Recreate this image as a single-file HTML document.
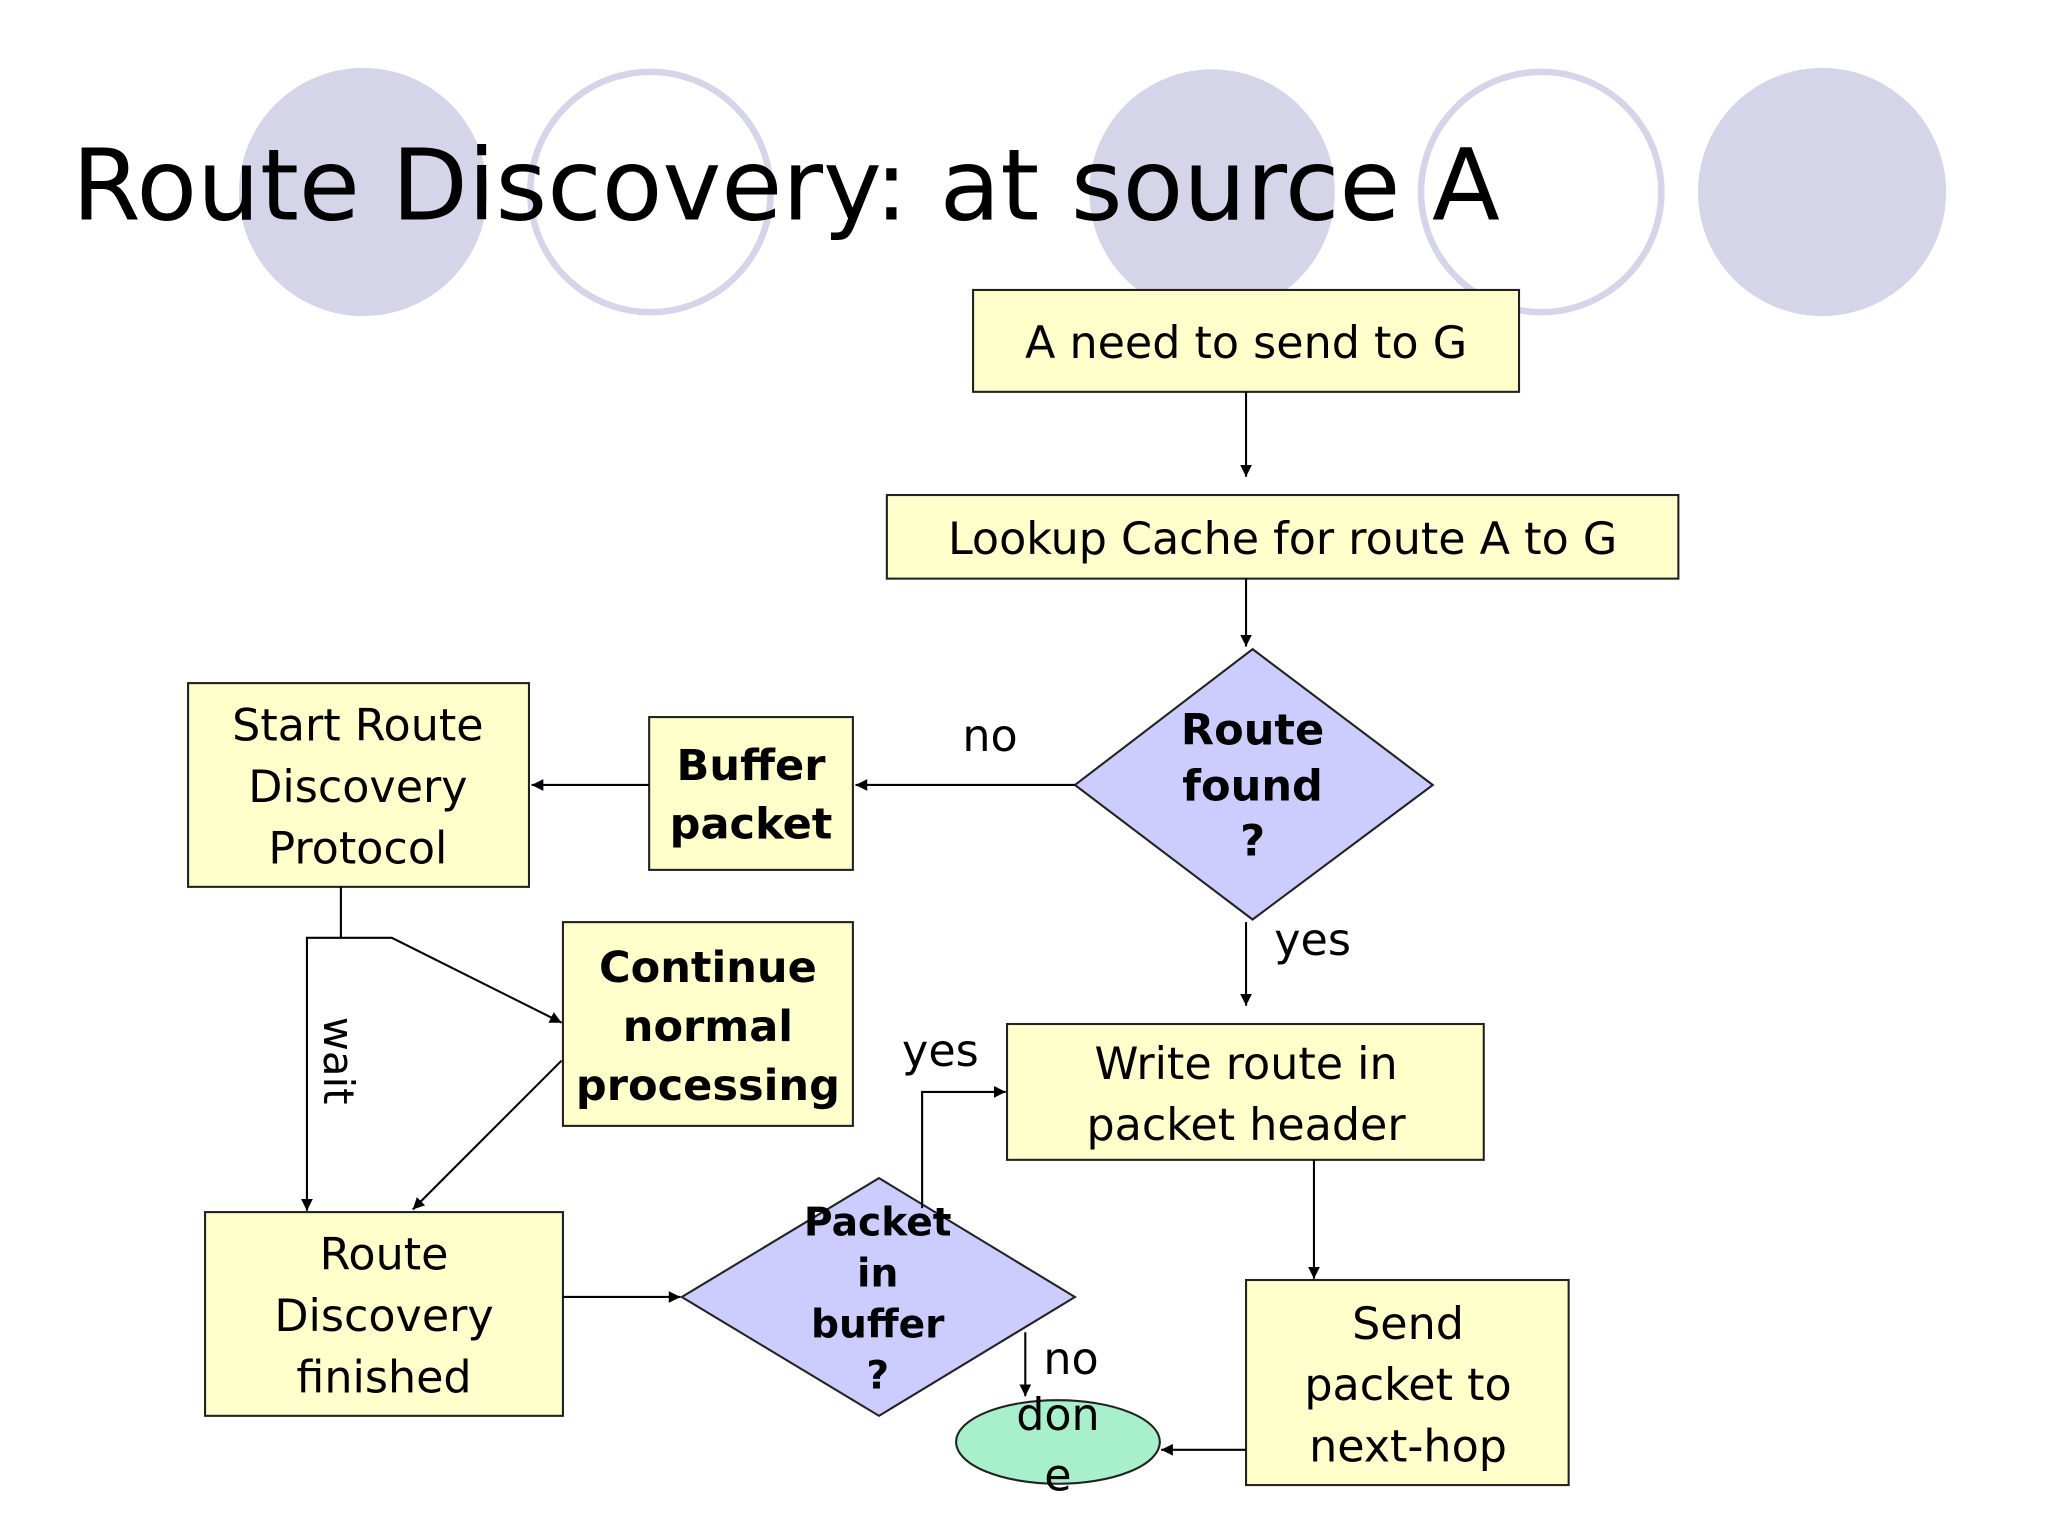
<!DOCTYPE html>
<html><head><meta charset="utf-8"><style>
html,body{margin:0;padding:0;background:#fff;}
svg{display:block;}
text{font-family:"DejaVu Sans","Liberation Sans",sans-serif;fill:#000;}
</style></head><body>
<svg width="2048" height="1536" viewBox="0 0 1568 1176" xmlns="http://www.w3.org/2000/svg">
<defs><marker id="a" viewBox="0 0 10 10" refX="10" refY="5" markerWidth="9" markerHeight="9" orient="auto" markerUnits="userSpaceOnUse"><path d="M0,0 L10,5 L0,10 z" fill="#000"/></marker></defs>
<rect width="1568" height="1176" fill="#fff"/>
<circle cx="278" cy="147" r="95" fill="#d5d5ea"/>
<circle cx="498" cy="147" r="92" fill="none" stroke="#d5d5ea" stroke-width="5"/>
<circle cx="928" cy="147" r="94" fill="#d5d5ea"/>
<circle cx="1180" cy="147" r="92" fill="none" stroke="#d5d5ea" stroke-width="5"/>
<circle cx="1395" cy="147" r="95" fill="#d5d5ea"/>
<text x="55" y="168" font-size="76">Route Discovery: at source A</text>
<g stroke="#222" stroke-width="1.6" fill="#ffffcc">
<rect x="745" y="222" width="418" height="78"/>
<rect x="679" y="379" width="606" height="64"/>
<rect x="497" y="549" width="156" height="117"/>
<rect x="144" y="523" width="261" height="156"/>
<rect x="431" y="706" width="222" height="156"/>
<rect x="157" y="928" width="274" height="156"/>
<rect x="771" y="784" width="365" height="104"/>
<rect x="954" y="980" width="247" height="157"/>
<polygon points="959,497 1097,601 959,704 823,601" fill="#ccccff"/>
<polygon points="673,902 823,993 673,1084 522,993" fill="#ccccff"/>
<ellipse cx="810" cy="1104" rx="78" ry="32" fill="#a8f0cc"/>
</g>
<g stroke="#000" stroke-width="1.6" fill="none" marker-end="url(#a)">
<line x1="954" y1="300" x2="954" y2="365"/>
<line x1="954" y1="443" x2="954" y2="495"/>
<line x1="823" y1="601" x2="655" y2="601"/>
<line x1="497" y1="601" x2="407" y2="601"/>
<polyline points="261,679 261,718 235,718 235,927"/>
<polyline points="261,718 300,718 430,783"/>
<line x1="430" y1="812" x2="316" y2="926"/>
<line x1="431" y1="993" x2="521" y2="993"/>
<polyline points="706,925 706,836 770,836"/>
<line x1="954" y1="706" x2="954" y2="770"/>
<line x1="1006" y1="888" x2="1006" y2="979"/>
<line x1="954" y1="1110" x2="889" y2="1110"/>
<line x1="785" y1="1020" x2="785" y2="1069"/>
</g>
<g font-size="34" text-anchor="middle">
<text x="954" y="274">A need to send to G</text>
<text x="982" y="424">Lookup Cache for route A to G</text>
<text x="274" y="567">Start Route</text><text x="274" y="614">Discovery</text><text x="274" y="661">Protocol</text>
<text x="294" y="972">Route</text><text x="294" y="1019">Discovery</text><text x="294" y="1066">finished</text>
<text x="954" y="826">Write route in</text><text x="954" y="873">packet header</text>
<text x="1078" y="1025">Send</text><text x="1078" y="1072">packet to</text><text x="1078" y="1119">next-hop</text>
<text x="810" y="1095">don</text><text x="810" y="1141">e</text>
<text x="758" y="575">no</text><text x="1005" y="731">yes</text><text x="720" y="816">yes</text><text x="820" y="1052">no</text>
</g>
<g font-size="33" font-weight="bold" text-anchor="middle">
<text x="575" y="597">Buffer</text><text x="575" y="642">packet</text>
<text x="542" y="752">Continue</text><text x="542" y="797">normal</text><text x="542" y="842">processing</text>
<text x="959" y="570">Route</text><text x="959" y="613">found</text><text x="959" y="655">?</text>
</g>
<g font-size="30" font-weight="bold" text-anchor="middle">
<text x="672" y="946">Packet</text><text x="672" y="985">in</text><text x="672" y="1024">buffer</text><text x="672" y="1063">?</text>
</g>
<text x="0" y="0" font-size="32" transform="translate(248,812) rotate(90)" text-anchor="middle">wait</text>
</svg>
</body></html>
